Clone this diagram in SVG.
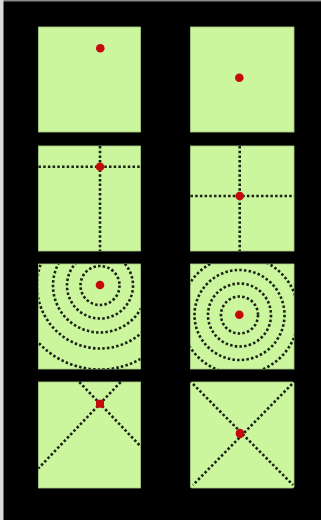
<svg xmlns="http://www.w3.org/2000/svg" width="321" height="520" viewBox="0 0 321 520">
  <style>
    .sq { fill: #cbf69e; stroke: #a9cf86; stroke-width: 0.8; }
    .dot { fill: none; stroke: #1b2216; stroke-width: 2.6; stroke-dasharray: 2.5 2.2; }
    .pt { fill: #c40a0a; }
  </style>
  <defs>
    <clipPath id="c3l"><rect x="38.5" y="264" width="102" height="105"/></clipPath>
    <clipPath id="c3r"><rect x="190.5" y="264" width="103.5" height="105"/></clipPath>
  </defs>
  <rect x="0" y="0" width="321" height="520" fill="#000"/>
  <rect x="0" y="0" width="321" height="1.5" fill="#8a8a8a"/>
  <rect x="0" y="0" width="3.5" height="520" fill="#dcdcdc"/>

  <g id="panel-1a">
    <rect class="sq" x="38.5" y="27" width="102" height="105"/>
    <circle class="pt" cx="100.3" cy="48.3" r="4.3"/>
  </g>
  <g id="panel-1b">
    <rect class="sq" x="190.5" y="27" width="103.5" height="105"/>
    <circle class="pt" cx="239.3" cy="77.7" r="4.3"/>
  </g>

  <g id="panel-2a">
    <rect class="sq" x="38.5" y="146" width="102" height="105"/>
    <g class="dot">
      <line x1="100" y1="146" x2="100" y2="251"/>
      <line x1="38.5" y1="166.7" x2="140.5" y2="166.7"/>
    </g>
    <circle class="pt" cx="100" cy="166.7" r="4.3"/>
  </g>
  <g id="panel-2b">
    <rect class="sq" x="190.5" y="146" width="103.5" height="105"/>
    <g class="dot">
      <line x1="239.7" y1="146" x2="239.7" y2="251"/>
      <line x1="190.5" y1="196" x2="294" y2="196"/>
    </g>
    <circle class="pt" cx="239.7" cy="196" r="4.3"/>
  </g>

  <g id="panel-3a">
    <rect class="sq" x="38.5" y="264" width="102" height="105"/>
    <g class="dot" clip-path="url(#c3l)">
      <circle cx="100" cy="285.5" r="19.5"/>
      <circle cx="100" cy="285.5" r="33"/>
      <circle cx="100" cy="285.5" r="47"/>
      <circle cx="100" cy="285.5" r="63"/>
      <circle cx="100" cy="285.5" r="84"/>
    </g>
    <circle class="pt" cx="100" cy="285" r="4.3"/>
  </g>
  <g id="panel-3b">
    <rect class="sq" x="190.5" y="264" width="103.5" height="105"/>
    <g class="dot" clip-path="url(#c3r)">
      <circle cx="239.5" cy="315" r="18.5"/>
      <circle cx="239.5" cy="315" r="31.5"/>
      <circle cx="239.5" cy="315" r="45"/>
      <circle cx="239.5" cy="315" r="59"/>
    </g>
    <circle class="pt" cx="239.3" cy="314.7" r="4.3"/>
  </g>

  <g id="panel-4a">
    <rect class="sq" x="38.5" y="382" width="102" height="106"/>
    <g class="dot">
      <line x1="79.3" y1="382" x2="140.5" y2="446.2"/>
      <line x1="120.7" y1="382" x2="38.5" y2="468.3"/>
    </g>
    <rect class="pt" x="96" y="399.7" width="8" height="8" rx="1.5"/>
  </g>
  <g id="panel-4b">
    <rect class="sq" x="190.5" y="382" width="103.5" height="106" rx="1.5"/>
    <g class="dot">
      <line x1="193" y1="384" x2="293" y2="485"/>
      <line x1="292" y1="384" x2="193" y2="485"/>
    </g>
    <ellipse class="pt" cx="240" cy="433.5" rx="4.3" ry="4.8"/>
  </g>
</svg>
